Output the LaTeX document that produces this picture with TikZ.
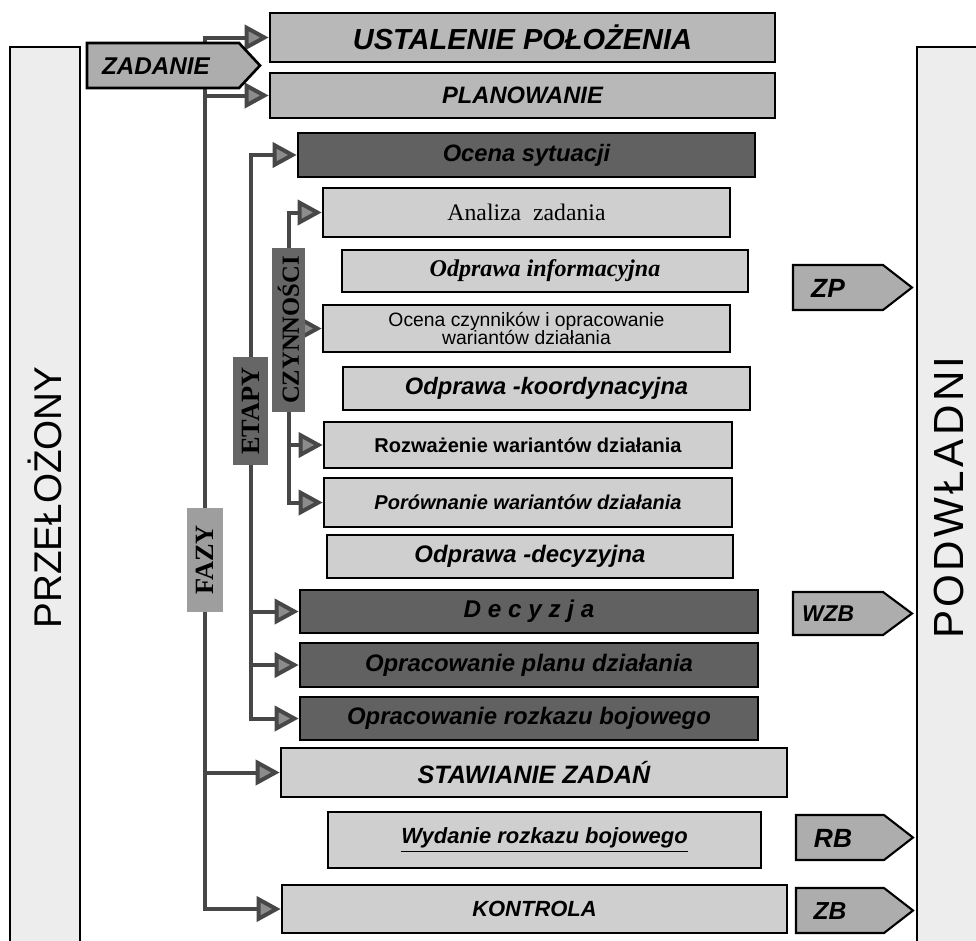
\documentclass[tikz,border=0pt]{standalone}
\usepackage{fontspec}
\setmainfont{Liberation Sans}
\newfontfamily\tms{Liberation Serif}
\usepackage{graphicx}
\usetikzlibrary{arrows.meta,backgrounds}
\tikzset{
 sz/.style 2 args={minimum width=#1*0.02cm, minimum height=#2*0.02cm},
 boxbase/.style={draw=black, line width=1.5pt, inner sep=0pt, align=center},
 lightbox/.style={boxbase, fill=black!19},
 midbox/.style={boxbase, fill=black!28},
 darkbox/.style={boxbase, fill=black!62},
 sidebar/.style={draw=black, line width=0.6pt, fill=black!7, inner sep=0pt},
 tagbox/.style={draw=none, inner sep=0pt, fill=black!60, font=\tms\bfseries\fontsize{14pt}{14pt}\selectfont},
 pent/.style={draw=black, line width=1.2pt, fill=black!32, line join=miter},
 bi/.style={font=\bfseries\itshape\fontsize{#1}{#1}\selectfont},
 line/.style={draw=black!72, line width=0.08cm},
 conn/.style={line, ->},
}
\begin{document}
\begin{tikzpicture}[x=0.02cm, y=-0.02cm, >={Triangle[length=0.48cm,width=0.5cm,fill=black!45]}]
\useasboundingbox (0,0) rectangle (976,940);

% side bars
\node[sidebar, sz={70}{901}, font=\fontsize{22pt}{22pt}\selectfont] (prz) at (45,497.5) {\rotatebox{90}{PRZEŁOŻONY}};
\fill[black!7] (917,47) rectangle (980,948);
\draw[line width=0.6pt] (917,948) -- (917,47) -- (980,47);
\node[inner sep=0pt, font=\addfontfeature{LetterSpace=8}\fontsize{24pt}{24pt}\selectfont] (pod) at (949,497.5) {\rotatebox{90}{PODWŁADNI}};

% main boxes
\node[midbox, bi=16.5pt, sz={505}{49}] (ust) at (522.5,37.5) {USTALENIE POŁOŻENIA};
\node[midbox, bi=13.5pt, sz={505}{45}] (pla) at (522.5,95.5) {PLANOWANIE};
\node[darkbox, bi=13.5pt, sz={457}{44}] (oce) at (526.5,155) {Ocena sytuacji};
\node[lightbox, font=\tms\fontsize{13.5pt}{13.5pt}\selectfont, sz={407}{49}] (anl) at (526.5,212.5) {Analiza\ \ zadania};
\node[lightbox, font=\tms\bfseries\itshape\fontsize{13.7pt}{13.7pt}\selectfont, sz={406}{42}] (oinf) at (545,271) {Odprawa informacyjna};
\node[lightbox, font=\fontsize{11pt}{10.5pt}\selectfont, sz={407}{47}] (ocz) at (526.5,328.5) {Ocena czynników i opracowanie\\wariantów działania};
\node[lightbox, bi=13.5pt, sz={407}{43}] (okoo) at (546.5,388.5) {Odprawa -koordynacyjna};
\node[lightbox, font=\bfseries\fontsize{11.4pt}{11.4pt}\selectfont, sz={408}{46}] (rwz) at (528,445) {Rozważenie wariantów działania};
\node[lightbox, bi=11.4pt, sz={408}{49}] (por) at (528,502.5) {Porównanie wariantów działania};
\node[lightbox, bi=13.6pt, sz={406}{43}] (odec) at (530,556.5) {Odprawa -decyzyjna};
\node[darkbox, bi=13.8pt, sz={458}{43}] (dec) at (529,611.5) {D e c y z j a};
\node[darkbox, bi=13.6pt, sz={458}{44}] (plan) at (529,665) {Opracowanie planu działania};
\node[darkbox, bi=13.6pt, sz={458}{43}] (rzk) at (529,718.5) {Opracowanie rozkazu bojowego};
\node[lightbox, bi=14.3pt, sz={506}{49}] (staw) at (534,772.5) {STAWIANIE ZADAŃ};
\node[lightbox, bi=12.5pt, sz={433}{56}] (wyd) at (544.5,840) {\underline{Wydanie rozkazu bojowego}};
\node[lightbox, bi=12.5pt, sz={505}{48}] (kon) at (534.5,909) {KONTROLA};

% label boxes on the connector lines
\node[tagbox, fill=black!38, font=\tms\bfseries\fontsize{15pt}{15pt}\selectfont, sz={36}{104}] (fazy) at (205,560) {\rotatebox{90}{FAZY}};
\node[tagbox, font=\tms\bfseries\fontsize{15pt}{15pt}\selectfont, sz={35}{108}] (etapy) at (250.5,411) {\rotatebox{90}{ETAPY}};
\node[tagbox, sz={33}{164}] (czyn) at (288.5,330) {\rotatebox{90}{CZYNNOŚCI}};

% ZADANIE
\draw[pent, line width=1.5pt] (87,43) -- (239,43) -- (260,65.5) -- (239,88) -- (87,88) -- cycle;
\node[bi=13.8pt] (zad) at (156,66) {ZADANIE};

% right tags
\draw[pent] (793,265) -- (883,265) -- (912,287.5) -- (883,310) -- (793,310) -- cycle;
\node[bi=15pt] (zp) at (828,288) {ZP};
\draw[pent] (793,592) -- (883,592) -- (912,613.5) -- (883,635) -- (793,635) -- cycle;
\node[bi=13pt] (wzb) at (828,614) {WZB};
\draw[pent] (796,815) -- (884,815) -- (913,837.5) -- (884,860) -- (796,860) -- cycle;
\node[bi=15pt] (rb) at (833,838) {RB};
\draw[pent] (796,888) -- (884,888) -- (913,910.5) -- (884,933) -- (796,933) -- cycle;
\node[bi=14pt] (zb) at (830,911) {ZB};

% connectors
\begin{pgfonlayer}{background}
\draw[line, <->] (ust.west) -- (ust.west -| fazy) -- (kon.west -| fazy) -- (kon.west);
\draw[conn] (pla.west -| fazy) -- (pla.west);
\draw[conn] (staw.west -| fazy) -- (staw.west);
\draw[line, <->] (oce.west) -- (oce.west -| etapy) -- (rzk.west -| etapy) -- (rzk.west);
\draw[conn] (dec.west -| etapy) -- (dec.west);
\draw[conn] (plan.west -| etapy) -- (plan.west);
\draw[line, <->] (anl.west) -- (anl.west -| czyn) -- (por.west -| czyn) -- (por.west);
\draw[conn] (ocz.west -| czyn) -- (ocz.west);
\draw[conn] (rwz.west -| czyn) -- (rwz.west);
\end{pgfonlayer}
\end{tikzpicture}
\end{document}
